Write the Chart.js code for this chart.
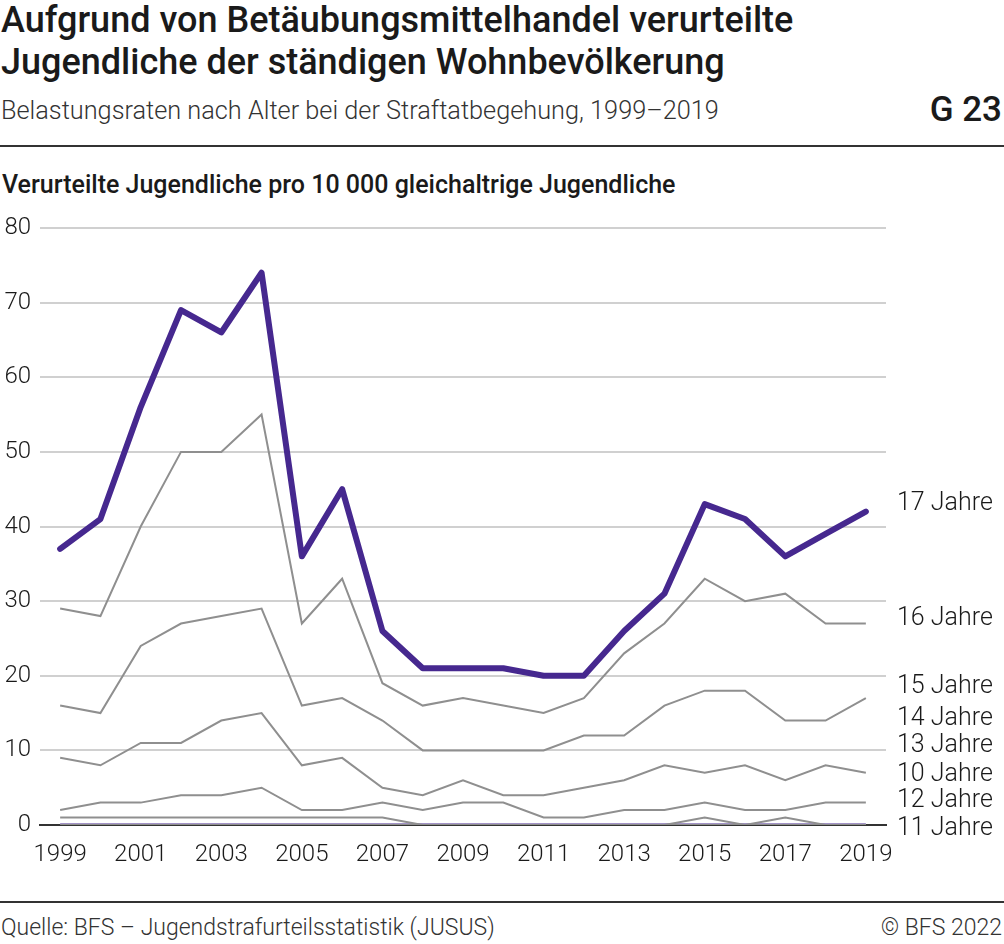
<!DOCTYPE html>
<html lang="de">
<head>
<meta charset="utf-8">
<script src="https://cdn.jsdelivr.net/npm/chart.js@4.4.1/dist/chart.umd.min.js"></script>
<style>
  body { margin: 0; background: #fff; font-family: Roboto, "Noto Sans", sans-serif; color: #1a1a1a; }
  #page { position: relative; width: 1004px; height: 944px; overflow: hidden; }
  .abs { position: absolute; white-space: nowrap; }
  #title { left: 1px; top: -1px; font-size: 36px; font-weight: 500; line-height: 42px; }
  #subtitle { left: 1px; top: 96px; font-size: 25.3px; font-weight: 300; color: #333; }
  #gnum { right: 2px; top: 89px; font-size: 35px; font-weight: 500; }
  .rule { position: absolute; left: 0; width: 1004px; height: 2px; background: #333; }
  #ytitle { left: 2px; top: 170px; font-size: 25px; font-weight: 500; }
  #source { left: 1px; top: 914px; font-size: 23px; font-weight: 300; color: #333; }
  #copy { right: 2px; top: 914px; font-size: 23px; font-weight: 300; color: #333; }
  #chartBox { position: absolute; left: 0; top: 210px; width: 1004px; height: 660px; }
</style>
</head>
<body>
<div id="page">
  <div id="title" class="abs">Aufgrund von Betäubungsmittelhandel verurteilte<br>Jugendliche der ständigen Wohnbevölkerung</div>
  <div id="subtitle" class="abs">Belastungsraten nach Alter bei der Straftatbegehung, 1999–2019</div>
  <div id="gnum" class="abs">G 23</div>
  <div class="rule" style="top:145px"></div>
  <div id="ytitle" class="abs">Verurteilte Jugendliche pro 10 000 gleichaltrige Jugendliche</div>
  <div id="chartBox"><canvas id="graph"></canvas></div>
  <div class="rule" style="top:901px"></div>
  <div id="source" class="abs">Quelle: BFS – Jugendstrafurteilsstatistik (JUSUS)</div>
  <div id="copy" class="abs">© BFS 2022</div>
</div>
<script>
// Jahre
const years = ['1999','2000','2001','2002','2003','2004','2005','2006','2007','2008','2009',
               '2010','2011','2012','2013','2014','2015','2016','2017','2018','2019'];

// Belastungsraten nach Alter
const age17 = [37, 41, 56, 69, 66, 74, 36, 45, 26, 21, 21, 21, 20, 20, 26, 31, 43, 41, 36, 39, 42];
const age16 = [29, 28, 40, 50, 50, 55, 27, 33, 19, 16, 17, 16, 15, 17, 23, 27, 33, 30, 31, 27, 27];
const age15 = [16, 15, 24, 27, 28, 29, 16, 17, 14, 10, 10, 10, 10, 12, 12, 16, 18, 18, 14, 14, 17];
const age14 = [9, 8, 11, 11, 14, 15, 8, 9, 5, 4, 6, 4, 4, 5, 6, 8, 7, 8, 6, 8, 7];
const age13 = [2, 3, 3, 4, 4, 5, 2, 2, 3, 2, 3, 3, 1, 1, 2, 2, 3, 2, 2, 3, 3];
const age10 = [0, 0, 0, 0, 0, 0, 0, 0, 0, 0, 0, 0, 0, 0, 0, 0, 0, 0, 0, 0, 0];
const age12 = [1, 1, 1, 1, 1, 1, 1, 1, 1, 0, 0, 0, 0, 0, 0, 0, 1, 0, 1, 0, 0];
const age11 = [0, 0, 0, 0, 0, 0, 0, 0, 0, 0, 0, 0, 0, 0, 0, 0, 0, 0, 0, 0, 0];

// y-Achse
const yTicks = [0, 10, 20, 30, 40, 50, 60, 70, 80];

// Beschriftung rechts (Name, Höhe in Datenwerten)
const seriesNames = ['17 Jahre', '16 Jahre', '15 Jahre', '14 Jahre', '13 Jahre', '10 Jahre', '12 Jahre', '11 Jahre'];
const labelLevels = [43.1, 27.7, 18.5, 14.3, 10.6, 6.7, 3.2, -0.5];

const PURPLE = '#46288f';
const GREY = '#8f8f8f';

function greyLine(label, data) {
  return { label: label, data: data, borderColor: GREY, borderWidth: 2, pointRadius: 0, tension: 0 };
}

// rechte Beschriftung
const endLabels = {
  id: 'endLabels',
  afterDraw(chart) {
    const ctx = chart.ctx;
    const y = chart.scales.y;
    ctx.save();
    ctx.font = '300 25px Roboto';
    ctx.fillStyle = '#1a1a1a';
    ctx.textBaseline = 'middle';
    ctx.textAlign = 'left';
    for (let i = 0; i < seriesNames.length; i++) {
      ctx.fillText(seriesNames[i], chart.chartArea.right + 11, y.getPixelForValue(labelLevels[i]));
    }
    ctx.restore();
  }
};

new Chart(document.getElementById('graph'), {
  type: 'line',
  data: {
    labels: years,
    datasets: [
      { label: '17 Jahre', data: age17, borderColor: PURPLE, borderWidth: 6, pointRadius: 0,
        tension: 0, borderCapStyle: 'round', borderJoinStyle: 'round' },
      greyLine('16 Jahre', age16),
      greyLine('15 Jahre', age15),
      greyLine('14 Jahre', age14),
      greyLine('13 Jahre', age13),
      greyLine('10 Jahre', age10),
      greyLine('12 Jahre', age12),
      { label: '11 Jahre', data: age11, borderColor: PURPLE, borderWidth: 3, pointRadius: 0, tension: 0 }
    ]
  },
  options: {
    responsive: true,
    maintainAspectRatio: false,
    animation: false,
    layout: { padding: { top: 18, right: 118, left: 0, bottom: 0 } },
    plugins: { legend: { display: false }, tooltip: { enabled: false } },
    scales: {
      x: {
        offset: true,
        z: 1,
        grid: { display: false },
        border: { display: true, color: '#333', width: 2 },
        ticks: {
          autoSkip: false, maxRotation: 0, padding: 8,
          color: '#1a1a1a', font: { family: 'Roboto', size: 24, weight: '300' },
          callback: function(val, i) { return i % 2 === 0 ? this.getLabelForValue(val) : ''; }
        },
        afterFit: function(scale) {
          scale.height = 45;
          scale.paddingLeft = 0;
          scale.paddingRight = 0;
        }
      },
      y: {
        min: 0, max: 80,
        afterBuildTicks: function(scale) { scale.ticks = yTicks.map(v => ({ value: v })); },
        grid: { color: '#d0d0d0', lineWidth: 2, drawTicks: false },
        border: { display: false },
        ticks: { padding: 9, color: '#1a1a1a', font: { family: 'Roboto', size: 24, weight: '300' } },
        afterFit: function(scale) {
          scale.width = 40;
          scale.paddingTop = 0;
          scale.paddingBottom = 0;
        }
      }
    }
  },
  plugins: [endLabels]
});
</script>
</body>
</html>
